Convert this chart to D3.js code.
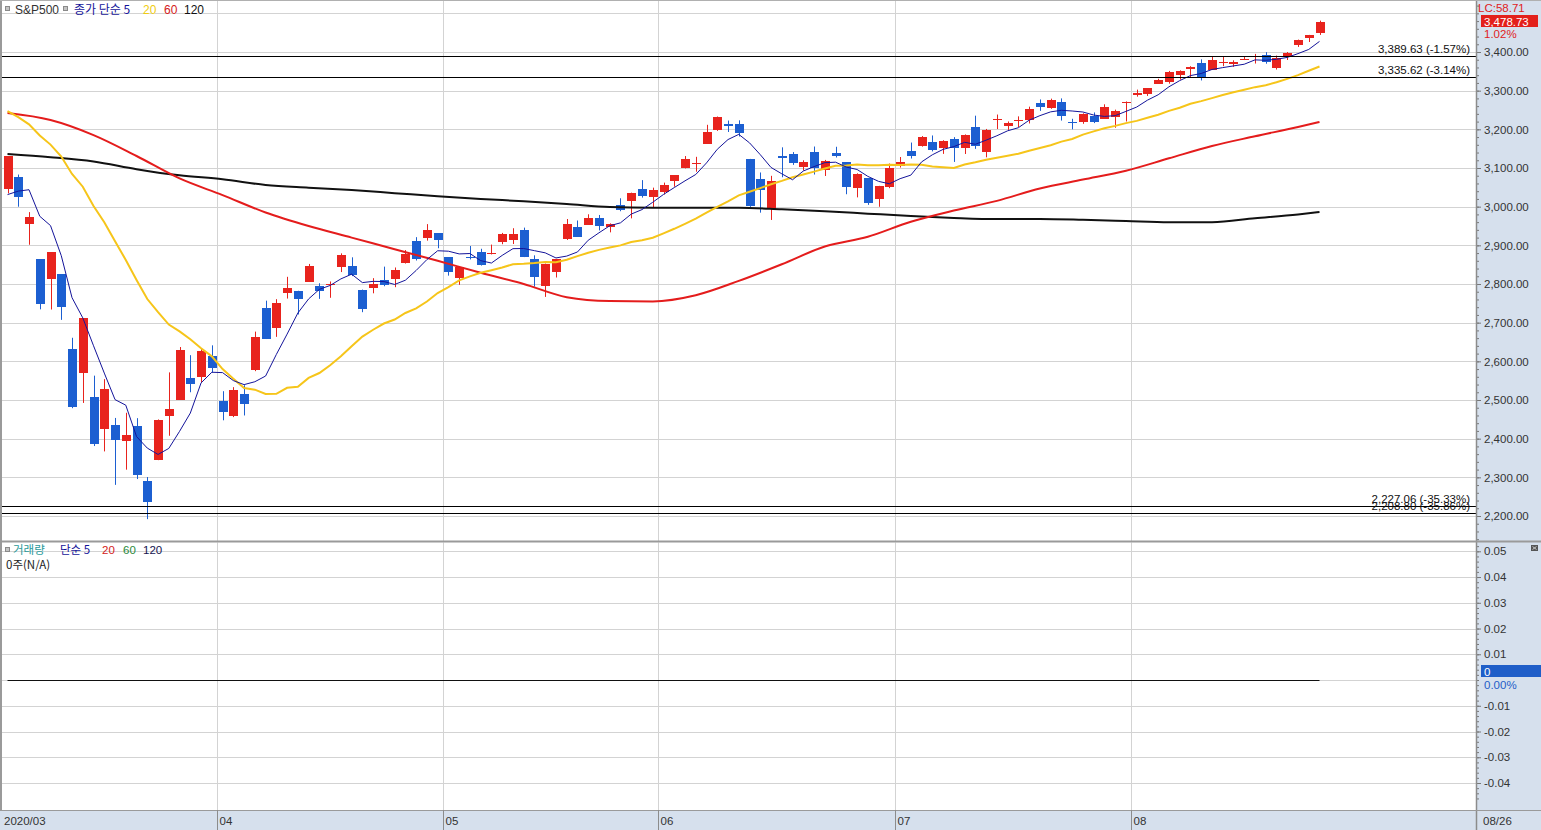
<!DOCTYPE html>
<html><head><meta charset="utf-8">
<script src="https://cdn.jsdelivr.net/npm/d3@7"></script>
<style>
body{margin:0;background:#fff;overflow:hidden}
text{font-family:"Liberation Sans",Arial,sans-serif}
.kr{font-family:"Noto Sans CJK KR","Liberation Sans",sans-serif}
</style>
</head><body>
<svg id="c" width="1541" height="830"></svg>
<script>
// ---------------- DATA ----------------
const dates=["03/04","03/05","03/06","03/09","03/10","03/11","03/12","03/13","03/16","03/17","03/18","03/19","03/20","03/23","03/24","03/25","03/26","03/27","03/30","03/31",
"04/01","04/02","04/03","04/06","04/07","04/08","04/09","04/13","04/14","04/15","04/16","04/17","04/20","04/21","04/22","04/23","04/24","04/27","04/28","04/29","04/30",
"05/01","05/04","05/05","05/06","05/07","05/08","05/11","05/12","05/13","05/14","05/15","05/18","05/19","05/20","05/21","05/22","05/26","05/27","05/28","05/29",
"06/01","06/02","06/03","06/04","06/05","06/08","06/09","06/10","06/11","06/12","06/15","06/16","06/17","06/18","06/19","06/22","06/23","06/24","06/25","06/26","06/29","06/30",
"07/01","07/02","07/06","07/07","07/08","07/09","07/10","07/13","07/14","07/15","07/16","07/17","07/20","07/21","07/22","07/23","07/24","07/27","07/28","07/29","07/30","07/31",
"08/03","08/04","08/05","08/06","08/07","08/10","08/11","08/12","08/13","08/14","08/17","08/18","08/19","08/20","08/21","08/24","08/25","08/26"];

const opens=[3045.75,3075.70,2954.20,2863.89,2813.48,2825.60,2630.86,2569.99,2508.59,2425.66,2436.50,2393.48,2431.94,2290.71,2344.44,2457.77,2501.29,2555.87,2558.98,2614.69,
2498.08,2458.54,2514.92,2578.28,2738.65,2685.00,2776.99,2782.46,2805.10,2795.64,2799.34,2842.43,2845.62,2784.81,2787.89,2810.42,2812.64,2854.65,2909.96,2918.46,2930.91,
2869.09,2815.01,2868.88,2883.14,2878.26,2908.83,2915.46,2939.50,2865.86,2794.54,2829.95,2913.86,2948.59,2953.63,2969.95,2948.05,3004.08,3015.65,3046.61,3025.17,
3038.78,3064.78,3098.90,3111.56,3163.84,3199.92,3213.32,3213.42,3123.53,3071.04,2993.76,3131.00,3136.13,3101.64,3140.29,3094.42,3138.70,3114.40,3046.60,3073.20,3018.59,3050.20,
3105.92,3143.64,3155.29,3166.44,3153.07,3176.17,3152.47,3205.08,3141.11,3225.98,3208.36,3224.21,3224.29,3268.52,3254.86,3271.64,3218.58,3219.84,3234.27,3227.22,3231.76,3270.45,
3288.26,3289.92,3317.37,3323.17,3340.05,3356.04,3370.34,3355.46,3372.95,3368.66,3380.86,3387.04,3392.51,3360.48,3386.01,3418.09,3435.95,3449.97];

const highs=[3130.97,3083.04,2985.93,2863.89,2882.59,2825.60,2660.95,2711.33,2562.98,2553.93,2453.57,2466.97,2453.01,2300.73,2449.71,2571.42,2637.01,2615.91,2631.80,2641.39,
2522.75,2533.22,2538.18,2676.85,2756.89,2760.75,2818.57,2782.46,2851.85,2801.88,2806.51,2879.22,2868.98,2785.54,2815.10,2844.90,2842.71,2887.72,2921.15,2954.86,2930.91,
2869.09,2844.24,2898.23,2891.11,2901.92,2932.16,2944.25,2945.82,2874.14,2852.80,2865.01,2968.09,2964.21,2980.29,2978.50,2956.76,3021.72,3036.25,3068.67,3049.17,
3062.18,3081.07,3130.94,3128.91,3211.72,3233.13,3222.71,3223.27,3123.53,3088.42,3079.76,3153.45,3141.16,3120.00,3155.53,3120.92,3154.90,3115.01,3086.25,3073.73,3053.89,3111.51,
3128.44,3165.81,3182.59,3184.15,3171.80,3179.78,3186.82,3235.32,3200.95,3238.28,3220.39,3233.52,3258.61,3277.29,3279.32,3279.99,3227.26,3241.43,3243.72,3264.74,3250.92,3272.17,
3302.73,3306.84,3330.77,3351.03,3352.54,3363.29,3381.01,3387.89,3387.24,3378.51,3387.59,3395.06,3399.54,3390.80,3399.96,3432.09,3444.21,3481.07];

const lows=[3034.38,2999.83,2901.54,2734.43,2734.00,2707.22,2478.86,2492.37,2380.94,2367.04,2280.52,2319.78,2295.56,2191.86,2344.44,2407.53,2500.72,2520.02,2545.28,2571.15,
2447.49,2455.79,2459.96,2574.57,2657.67,2663.30,2762.36,2721.17,2805.10,2761.54,2764.32,2830.88,2820.43,2727.10,2775.95,2794.26,2791.76,2852.89,2860.71,2912.16,2892.47,
2821.61,2797.85,2863.55,2847.65,2876.48,2902.88,2903.44,2869.59,2793.15,2766.64,2816.78,2913.86,2922.35,2953.63,2938.57,2933.59,2988.17,2969.75,3023.40,2998.61,
3031.54,3051.64,3098.90,3090.41,3163.84,3196.00,3193.11,3181.49,2999.49,2984.47,2965.66,3076.06,3108.03,3093.51,3083.11,3079.39,3127.12,3032.13,3024.01,3004.63,2999.74,3047.83,
3101.17,3124.52,3155.29,3142.93,3136.53,3115.70,3136.22,3149.43,3127.66,3200.76,3198.59,3205.65,3215.16,3247.77,3253.10,3222.66,3200.05,3214.25,3216.17,3227.22,3204.13,3220.26,
3284.53,3286.37,3317.37,3318.14,3328.72,3335.44,3326.44,3355.46,3363.35,3361.64,3379.22,3370.15,3369.66,3354.69,3379.31,3413.13,3425.84,3444.15];

const closes=[3130.12,3023.94,2972.37,2746.56,2882.23,2741.38,2480.64,2711.02,2386.13,2529.19,2398.10,2409.39,2304.92,2237.40,2447.33,2475.56,2630.07,2541.47,2626.65,2584.59,
2470.50,2526.90,2488.65,2663.68,2659.41,2749.98,2789.82,2761.63,2846.06,2783.36,2799.55,2874.56,2823.16,2736.56,2799.31,2797.80,2836.74,2878.48,2863.39,2939.51,2912.43,
2830.71,2842.74,2868.44,2848.42,2881.19,2929.80,2930.32,2870.12,2820.00,2852.50,2863.70,2953.91,2922.94,2971.61,2948.51,2955.45,2991.77,3036.13,3029.73,3044.31,
3055.73,3080.82,3122.87,3112.35,3193.93,3232.39,3207.18,3190.14,3002.10,3041.31,3066.59,3124.74,3113.49,3115.34,3097.74,3117.86,3131.29,3050.33,3083.76,3009.05,3053.24,3100.29,
3115.86,3130.01,3179.72,3145.32,3169.94,3152.05,3185.04,3155.22,3197.52,3226.56,3215.57,3224.73,3251.84,3257.30,3276.02,3235.66,3215.63,3239.41,3218.44,3258.44,3246.22,3271.12,
3294.61,3306.51,3327.77,3349.16,3351.28,3360.47,3333.69,3380.35,3373.43,3372.85,3381.99,3389.78,3374.85,3385.51,3397.16,3431.28,3443.62,3478.73];

const ma5=[3031.2,3040.2,3043.8,2975.2,2951,2873.2,2764.6,2712.4,2640.2,2569.6,
2501,2486.6,2405.4,2375.6,2359.2,2374.8,2419,2466.2,2544.2,2571.8,
2570.8,2550.2,2539.8,2547.2,2562,2617.8,2670.4,2725,2761.4,2786.2,
2796.2,2813.2,2825.4,2803.6,2806.8,2806.4,2798.8,2809.8,2835,2863.2,
2886,2884.8,2877.8,2878.8,2860.4,2854.2,2874,2891.4,2891.8,2886.2,
2880.6,2867.4,2872.2,2882.8,2913.2,2932.4,2950.6,2958.2,2980.8,2992.4,
3011.4,3031.6,3049.4,3066.8,3083.2,3113.2,3148.4,3173.6,3187,3165,
3134.4,3101.4,3085,3069.6,3092.2,3103.6,3113.8,3115,3102.4,3096.2,
3078.4,3065.4,3059.2,3072.4,3081.6,3115.8,3134.2,3148.2,3155.4,3166.4,
3161.4,3172,3183.4,3196.2,3204.2,3223.6,3235.4,3245.2,3249.2,3247.4,
3244.8,3237,3233.4,3235.4,3246.4,3257.6,3275.4,3289.4,3310,3326,
3339,3344.4,3354.8,3359.6,3364,3368.4,3379.6,3378.6,3381.2,3386,
3395.8,3406.6,3427.4];

const ma20=[3247.3,3231.7,3213,3184,3160.5,3129.6,3084.7,3051.6,3001.9,2959.8,
2910.4,2862.2,2810.6,2761.1,2727.1,2695,2677.6,2657,2633.8,2612.9,
2580,2555.1,2531,2526.8,2515.7,2516.1,2531.6,2534.1,2557.1,2569.8,
2589.9,2613.2,2639.1,2664.1,2681.7,2697.8,2708.2,2725,2736.8,2754.6,
2776.6,2791.8,2809.5,2819.7,2829.2,2835.7,2842.7,2851.1,2852.3,2854.2,
2856.8,2856.3,2862.8,2872.1,2880.8,2888.3,2894.2,2899.9,2908.6,2913.1,
2919.7,2930.9,2942.8,2955.6,2968.8,2984.4,2999.5,3013.4,3029.4,3038.5,
3047.9,3058,3066.6,3076.1,3083.2,3090.7,3098.8,3105.8,3106.5,3109.2,
3107.4,3107.3,3108.2,3107.9,3108.8,3108.1,3103.7,3101.9,3100,3109.1,
3114.8,3121.4,3126.5,3131.6,3137.1,3144.8,3151.8,3159,3168.3,3174.9,
3186.4,3194.7,3202.6,3209,3216.1,3221.9,3229.9,3237.9,3247.7,3256,
3266.3,3273,3280.7,3288.6,3296,3302.5,3309.1,3314,3321.6,3330.6,
3340.2,3351.5,3362.6];

// 60 / 120 day averages at every 4th session
const maSampleIdx=[0,4,8,12,16,20,24,28,32,36,40,44,48,52,56,60,64,68,72,76,80,84,88,92,96,100,104,108,112,116,120,122];
const ma60=[3242,3224,3185,3131,3073,3030,2985,2950,2920,2890,2860,2829,2800,2766,2756,2755,2771,2808,2851,2897,2922,2961,2990,3015,3047,3070,3093,3125,3157,3182,3206,3219];
const ma120=[3136,3128,3117,3097,3081,3071,3056,3049,3043,3035,3027,3020,3014,3007,2999,2997,2997,2997,2993,2988,2982,2976,2971,2968,2968,2966,2963,2960,2960,2970,2980,2986];

const priceTicks=[3400,3300,3200,3100,3000,2900,2800,2700,2600,2500,2400,2300,2200];
const priceGrid=[3500,3400,3300,3200,3100,3000,2900,2800,2700,2600,2500,2400,2300,2200];
const refLines=[3389.63,3335.62,2227.06,2208.80];
const refLabels=["3,389.63 (-1.57%)","3,335.62 (-3.14%)","2,227.06 (-35.33%)","2,208.80 (-35.86%)"];
const volTicks=[0.05,0.04,0.03,0.02,0.01,-0.01,-0.02,-0.03,-0.04];
const volGrid=[0.05,0.04,0.03,0.02,0.01,0,-0.01,-0.02,-0.03,-0.04];
const monthLabels=["2020/03","04","05","06","07","08"];
const endLabel="08/26";
const lastPrice="3,478.73", lastPct="1.02%", lcText="LC:58.71";

// ---------------- LAYOUT ----------------
const W=1541,H=830, axX=1476, panelSep=541.5, bandTop=810;
const svg=d3.select("#c");
const x=d3.scaleLinear().domain([0,dates.length-1]).range([7.5,1319.5]);
const yP=d3.scaleLinear().domain([2200,3400]).range([516,52]);
const yV=d3.scaleLinear().domain([-0.04,0.05]).range([783,551.3]);

const UP="#e8231d", DN="#1c5fd1";
const gridC="#d3d3d3";

// background
svg.append("rect").attr("width",W).attr("height",H).attr("fill","#fff");
svg.append("rect").attr("x",axX).attr("y",0).attr("width",W-axX).attr("height",bandTop).attr("fill","#d6e0ed");
svg.append("rect").attr("x",0).attr("y",bandTop).attr("width",W).attr("height",H-bandTop).attr("fill","#d6e0ed");

const defs=svg.append("defs");
defs.append("clipPath").attr("id","clipTop").append("rect").attr("x",2).attr("y",0).attr("width",axX-2).attr("height",panelSep);
defs.append("clipPath").attr("id","clipBot").append("rect").attr("x",2).attr("y",panelSep+1).attr("width",axX-2).attr("height",bandTop-panelSep-1);

// month boundaries
const monthStart=[];
dates.forEach((d,i)=>{ if(i===0||d.slice(0,2)!==dates[i-1].slice(0,2)) monthStart.push(i); });
const bx=i=> i===0?2:Math.round(x(i-0.5))+0.5;

// ---- top panel grid
const gTop=svg.append("g").attr("clip-path","url(#clipTop)");
gTop.selectAll("line.hg").data(priceGrid).join("line").attr("class","hg")
  .attr("x1",2).attr("x2",axX).attr("y1",d=>Math.round(yP(d))+0.5).attr("y2",d=>Math.round(yP(d))+0.5)
  .attr("stroke",gridC).attr("stroke-width",1);
gTop.selectAll("line.vg").data(monthStart.slice(1)).join("line").attr("class","vg")
  .attr("x1",bx).attr("x2",bx).attr("y1",0).attr("y2",panelSep).attr("stroke",gridC);

// candles
const candles=dates.map((d,i)=>({i,o:opens[i],h:highs[i],l:lows[i],c:closes[i]}));
const cx=d=>Math.round(x(d.i));
gTop.append("g").selectAll("line").data(candles).join("line")
  .attr("x1",d=>cx(d)+0.5).attr("x2",d=>cx(d)+0.5)
  .attr("y1",d=>yP(d.h)).attr("y2",d=>yP(d.l))
  .attr("stroke",d=>d.c>=d.o?UP:DN).attr("stroke-width",1);
gTop.append("g").selectAll("rect").data(candles).join("rect")
  .attr("x",d=>cx(d)-4).attr("width",9)
  .attr("y",d=>Math.round(yP(Math.max(d.o,d.c))))
  .attr("height",d=>Math.max(1,Math.round(Math.abs(yP(d.o)-yP(d.c)))))
  .attr("fill",d=>d.c>=d.o?UP:DN);

// moving averages
const lineD=d3.line().x((d,i)=>x(i)).y(d=>yP(d));
const lineS=d3.line().x(d=>x(d[0])).y(d=>yP(d[1])).curve(d3.curveMonotoneX);
gTop.append("path").datum(maSampleIdx.map((k,j)=>[k,ma120[j]])).attr("d",lineS).attr("fill","none").attr("stroke","#111").attr("stroke-width",2);
gTop.append("path").datum(maSampleIdx.map((k,j)=>[k,ma60[j]])).attr("d",lineS).attr("fill","none").attr("stroke","#e41c1c").attr("stroke-width",2);
gTop.append("path").datum(ma20).attr("d",lineD).attr("fill","none").attr("stroke","#f6c51a").attr("stroke-width",2);
gTop.append("path").datum(ma5).attr("d",lineD).attr("fill","none").attr("stroke","#14149a").attr("stroke-width",1);

// reference lines
refLines.forEach((v,k)=>{
  const yy=Math.round(yP(v))+0.5;
  svg.append("line").attr("x1",0).attr("x2",axX).attr("y1",yy).attr("y2",yy).attr("stroke","#000").attr("stroke-width",1);
  svg.append("text").attr("x",1470).attr("y",yy-3.5).attr("text-anchor","end").attr("font-size",11.5).attr("fill","#111").text(refLabels[k]);
});

// ---- lower panel
const gBot=svg.append("g").attr("clip-path","url(#clipBot)");
gBot.selectAll("line.hg").data(volGrid).join("line").attr("class","hg")
  .attr("x1",2).attr("x2",axX).attr("y1",d=>Math.round(yV(d))+0.5).attr("y2",d=>Math.round(yV(d))+0.5).attr("stroke",gridC);
gBot.selectAll("line.vg").data(monthStart.slice(1)).join("line").attr("class","vg")
  .attr("x1",bx).attr("x2",bx).attr("y1",panelSep).attr("y2",bandTop).attr("stroke",gridC);
gBot.append("line").attr("x1",x(0)).attr("x2",x(dates.length-1)).attr("y1",Math.round(yV(0))+0.5).attr("y2",Math.round(yV(0))+0.5).attr("stroke","#111").attr("stroke-width",1);

// ---- axes
const axTop=svg.append("g").attr("transform",`translate(${axX},0)`);
axTop.call(d3.axisRight(yP).tickValues(priceTicks).tickSize(5).tickSizeOuter(0).tickPadding(3).tickFormat(d3.format(",.2f")));
axTop.append("g").call(d3.axisRight(yP).tickValues(d3.range(2140,3540,20)).tickSize(3).tickSizeOuter(0).tickFormat(""));
const axBot=svg.append("g").attr("transform",`translate(${axX},0)`);
const fmtV=v=>d3.format(".2f")(v).replace("−","-");
axBot.call(d3.axisRight(yV).tickValues(volTicks).tickSize(5).tickSizeOuter(0).tickPadding(3).tickFormat(fmtV));
axBot.append("g").call(d3.axisRight(yV).tickValues(d3.range(-0.046,0.0521,0.002)).tickSize(3).tickSizeOuter(0).tickFormat(""));
[axTop,axBot].forEach(a=>{
  a.selectAll("path.domain").remove();
  a.selectAll("line").attr("stroke","#777");
  a.selectAll("text").attr("fill","#333").attr("font-size",11.5).attr("font-family","Liberation Sans, Arial, sans-serif");
});

// borders
svg.append("line").attr("x1",axX+0.5).attr("x2",axX+0.5).attr("y1",0).attr("y2",H).attr("stroke","#8c8c8c").attr("stroke-width",1.5);
svg.append("line").attr("x1",0).attr("x2",W).attr("y1",panelSep).attr("y2",panelSep).attr("stroke","#9a9a9a").attr("stroke-width",2);
svg.append("line").attr("x1",0).attr("x2",W).attr("y1",bandTop+0.5).attr("y2",bandTop+0.5).attr("stroke","#9a9a9a").attr("stroke-width",1);
svg.append("rect").attr("x",0).attr("y",0).attr("width",2).attr("height",bandTop).attr("fill","#9a9a9a");
svg.append("line").attr("x1",0).attr("x2",W).attr("y1",0.5).attr("y2",0.5).attr("stroke","#b0b0b0");

// bottom date band
const band=svg.append("g");
band.selectAll("line").data(monthStart.slice(1)).join("line")
  .attr("x1",bx).attr("x2",bx).attr("y1",bandTop).attr("y2",H).attr("stroke","#8c8c8c");
band.selectAll("text").data(monthStart).join("text")
  .attr("x",(d)=>bx(d)+2).attr("y",825).attr("font-size",11.5).attr("fill","#333")
  .text((d,k)=>monthLabels[k]);
band.append("text").attr("x",axX+7).attr("y",825).attr("font-size",11.5).attr("fill","#333").text(endLabel);

// ---- top-right price tag
svg.append("text").attr("x",1478).attr("y",12).attr("font-size",11.5).attr("fill","#e0201c").text(lcText);
svg.append("rect").attr("x",1481).attr("y",15).attr("width",57).attr("height",12).attr("fill","#e3201b");
svg.append("text").attr("x",1484).attr("y",25.5).attr("font-size",11.5).attr("fill","#fff").text(lastPrice);
svg.append("text").attr("x",1484).attr("y",37.5).attr("font-size",11.5).attr("fill","#e0201c").text(lastPct);

// lower tag
svg.append("rect").attr("x",1481).attr("y",665).attr("width",60).attr("height",12).attr("fill","#1f5ec8");
svg.append("text").attr("x",1484).attr("y",675.5).attr("font-size",11.5).attr("fill","#fff").text("0");
svg.append("text").attr("x",1484).attr("y",689).attr("font-size",11.5).attr("fill","#1f5ec8").text("0.00%");
svg.append("rect").attr("x",1531).attr("y",545).attr("width",7).attr("height",6).attr("fill","#555");
svg.append("path").attr("d","M1532.5,546.5L1536.5,549.5M1536.5,546.5L1532.5,549.5").attr("stroke","#ddd").attr("stroke-width",0.8);

// ---- legends
function sq(xx,yy){svg.append("rect").attr("x",xx+0.5).attr("y",yy+0.5).attr("width",4).attr("height",4).attr("fill","#c4c4c4").attr("stroke","#8a8a8a");}
sq(5,6); sq(63,6);
const L=(t,xx,yy,col,kr,fs)=>svg.append("text").attr("x",xx).attr("y",yy).attr("font-size",fs||12).attr("fill",col).attr("class",kr?"kr":null).text(t);
L("S&P500",15,14,"#333");
L("종가 단순 5",74,14,"#14149a",true);
L("20",143,14,"#f0cc10");
L("60",164,14,"#d42020");
L("120",184,14,"#111");

sq(5,547);
L("거래량",13,553.5,"#2a9a9a",true,11.5);
L("단순 5",60,553.5,"#14149a",true,11.5);
L("20",102,553.5,"#d42020",false,11.5);
L("60",123,553.5,"#2a8a3a",false,11.5);
L("120",143,553.5,"#141450",false,11.5);
L("0주(N/A)",6,569,"#222",true,11.5);
</script>
</body></html>
